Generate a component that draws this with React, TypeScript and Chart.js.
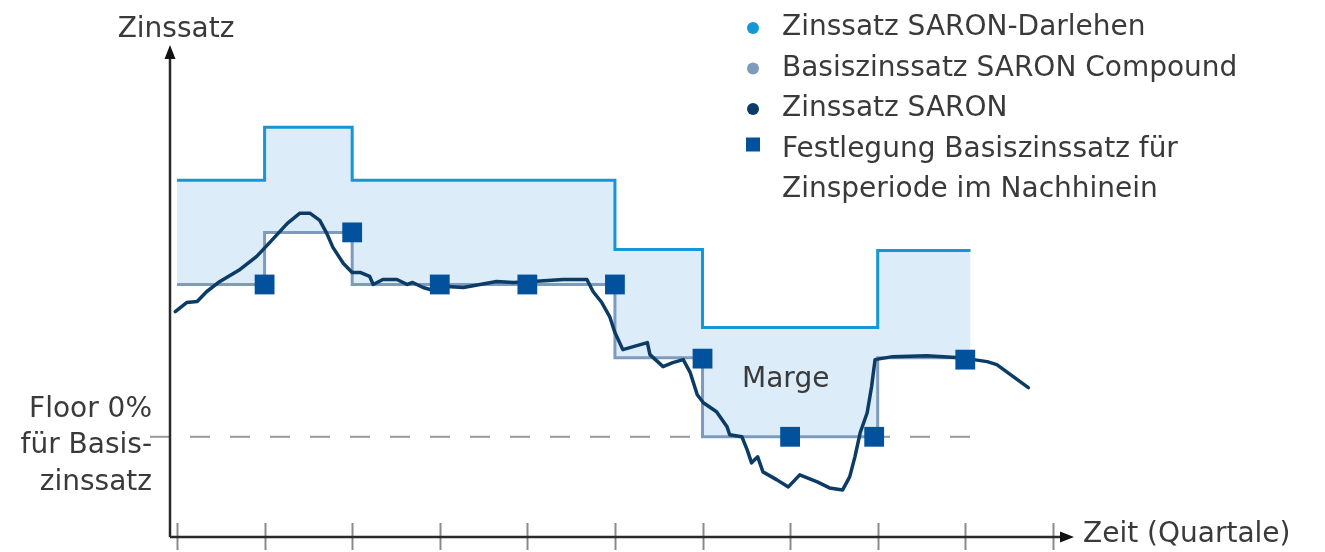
import React, { useEffect, useRef } from "react";
import { Chart, registerables } from "chart.js";

Chart.register(...registerables);

// ---------- data ----------
const periodStarts = [0, 1, 2, 3, 4, 5, 6, 7, 8];
const periodEnd = 9.06;
const quarterTicks = [0, 1, 2, 3, 4, 5, 6, 7, 8, 9, 10];

const darlehenRates = [2.56, 3.09, 2.56, 2.56, 2.56, 1.87, 1.09, 1.09, 1.86];
const compoundRates = [1.52, 2.04, 1.52, 1.52, 1.52, 0.79, 0, 0, 0.79];

const fixingX = [1, 2, 3, 4, 5, 6, 7, 7.96, 9];
const fixingY = [1.52, 2.04, 1.52, 1.52, 1.52, 0.78, 0, 0, 0.77];

const saronX = [
  -0.02, 0.11, 0.23, 0.34, 0.49, 0.72, 0.91, 1.06, 1.26, 1.4, 1.52, 1.63, 1.71, 1.78, 1.9,
  2.0, 2.09, 2.2, 2.24, 2.35, 2.51, 2.63, 2.69, 2.81, 2.89, 3.08, 3.27, 3.46, 3.65, 3.84,
  4.06, 4.41, 4.68, 4.75, 4.85, 4.94, 5.0, 5.09, 5.17, 5.37, 5.4, 5.55, 5.66, 5.78, 5.86,
  5.94, 6.01, 6.16, 6.28, 6.31, 6.45, 6.51, 6.56, 6.63, 6.69, 6.85, 6.98, 7.11, 7.31, 7.45,
  7.6, 7.68, 7.74, 7.8, 7.88, 7.93, 7.97, 8.17, 8.56, 8.94, 9.25, 9.36, 9.72,
];
const saronY = [
  1.25, 1.34, 1.35, 1.45, 1.55, 1.67, 1.8, 1.94, 2.13, 2.23, 2.23, 2.16, 2.03, 1.89, 1.73,
  1.64, 1.64, 1.6, 1.52, 1.57, 1.57, 1.52, 1.54, 1.49, 1.47, 1.5, 1.49, 1.52, 1.55, 1.54,
  1.55, 1.57, 1.57, 1.45, 1.34, 1.2, 1.04, 0.87, 0.89, 0.94, 0.82, 0.7, 0.74, 0.77, 0.64,
  0.42, 0.34, 0.25, 0.1, 0.02, 0.0, -0.13, -0.26, -0.2, -0.35, -0.43, -0.5, -0.38, -0.45, -0.51,
  -0.53, -0.4, -0.2, 0.04, 0.24, 0.5, 0.77, 0.8, 0.81, 0.79, 0.75, 0.72, 0.49,
];

const floorRate = 0;
const floorLineEnd = 9.07;

const xMin = -0.08;
const xMax = 10.23;
const yMin = -1.0;
const yMax = 3.9;

const yAxisTitle = "Zinssatz";
const xAxisTitle = "Zeit (Quartale)";
const floorLabel = ["Floor 0%", "für Basis-", "zinssatz"];
const margeLabel = "Marge";
const margeAt = { x: 6.95, y: 0.5 };

const legendItems = [
  { marker: "circle", color: "#1597d5", lines: ["Zinssatz SARON-Darlehen"] },
  { marker: "circle", color: "#7e9bbf", lines: ["Basiszinssatz SARON Compound"] },
  { marker: "circle", color: "#0c3b66", lines: ["Zinssatz SARON"] },
  { marker: "square", color: "#02519c", lines: ["Festlegung Basiszinssatz für", "Zinsperiode im Nachhinein"] },
];

// ---------- styles ----------
const FONT = '28px "DejaVu Sans"';
const TEXT_COLOR = "#3a3a3a";
const COL_DARLEHEN = "#1597d5";
const COL_COMPOUND = "#7e9bbf";
const COL_SARON = "#0c3b66";
const COL_FIX = "#02519c";
const COL_FILL = "#dcecf9";

function stepPoints(rates: number[]) {
  const pts = periodStarts.map((x, i) => ({ x, y: rates[i] }));
  pts.push({ x: periodEnd, y: rates[rates.length - 1] });
  return pts;
}

const decorPlugin = {
  id: "decor",
  beforeDatasetsDraw(chart: any) {
    const { ctx, scales } = chart;
    const xs = scales.x;
    const ys = scales.y;
    const x0 = xs.getPixelForValue(xMin);
    const xEnd = xs.getPixelForValue(xMax);
    const yBottom = ys.getPixelForValue(yMin);
    const yTop = ys.getPixelForValue(yMax);
    ctx.save();
    // floor dashed line
    const yf = ys.getPixelForValue(floorRate);
    ctx.strokeStyle = "#9a9a9a";
    ctx.lineWidth = 2;
    ctx.setLineDash([20, 20]);
    ctx.beginPath();
    ctx.moveTo(x0 - 20, yf);
    ctx.lineTo(xs.getPixelForValue(floorLineEnd), yf);
    ctx.stroke();
    ctx.setLineDash([]);

    // ticks
    ctx.strokeStyle = "#8a8a8a";
    ctx.lineWidth = 2;
    quarterTicks.forEach((t) => {
      const px = Math.round(xs.getPixelForValue(t)) + 0.5;
      ctx.beginPath();
      ctx.moveTo(px, yBottom - 14);
      ctx.lineTo(px, yBottom + 13);
      ctx.stroke();
    });

    // axes
    ctx.strokeStyle = "#2a2a2a";
    ctx.fillStyle = "#111";
    ctx.lineWidth = 2.5;
    ctx.beginPath();
    ctx.moveTo(x0, yBottom);
    ctx.lineTo(x0, yTop + 10);
    ctx.moveTo(x0, yBottom);
    ctx.lineTo(xEnd - 10, yBottom);
    ctx.stroke();
    // arrows
    ctx.beginPath();
    ctx.moveTo(x0, yTop - 1);
    ctx.lineTo(x0 - 5.5, yTop + 13);
    ctx.lineTo(x0 + 5.5, yTop + 13);
    ctx.closePath();
    ctx.fill();
    ctx.beginPath();
    ctx.moveTo(xEnd + 1, yBottom);
    ctx.lineTo(xEnd - 13, yBottom - 5.5);
    ctx.lineTo(xEnd - 13, yBottom + 5.5);
    ctx.closePath();
    ctx.fill();
    ctx.restore();
  },
  afterDraw(chart: any) {
    const { ctx, scales } = chart;
    const xs = scales.x;
    const ys = scales.y;
    const x0 = xs.getPixelForValue(xMin);
    const xEnd = xs.getPixelForValue(xMax);
    const yBottom = ys.getPixelForValue(yMin);
    const yTop = ys.getPixelForValue(yMax);
    const yf = ys.getPixelForValue(floorRate);
    ctx.save();
    ctx.font = FONT;
    ctx.fillStyle = TEXT_COLOR;
    ctx.textBaseline = "alphabetic";

    // axis titles
    ctx.textAlign = "center";
    ctx.fillText(yAxisTitle, x0 + 6, yTop - 9);
    ctx.textAlign = "left";
    ctx.fillText(xAxisTitle, xEnd + 10, yBottom + 5);

    // floor label
    ctx.textAlign = "right";
    ctx.fillText(floorLabel[0], x0 - 18, yf - 20);
    ctx.fillText(floorLabel[1], x0 - 18, yf + 16);
    ctx.fillText(floorLabel[2], x0 - 18, yf + 53);

    // marge
    ctx.textAlign = "center";
    ctx.fillText(margeLabel, xs.getPixelForValue(margeAt.x), ys.getPixelForValue(margeAt.y));

    // legend
    ctx.textAlign = "left";
    let base = 35;
    const mx = 753;
    const tx = 782;
    legendItems.forEach((item) => {
      ctx.fillStyle = item.color;
      if (item.marker === "circle") {
        ctx.beginPath();
        ctx.arc(mx, base - 7, 6, 0, Math.PI * 2);
        ctx.fill();
      } else {
        ctx.fillRect(mx - 7, base - 19, 14, 14);
      }
      ctx.fillStyle = TEXT_COLOR;
      item.lines.forEach((line) => {
        ctx.fillText(line, tx, base);
        base += 40.5;
      });
    });
    ctx.restore();
  },
};

export default function App() {
  const canvasRef = useRef<HTMLCanvasElement | null>(null);

  useEffect(() => {
    if (!canvasRef.current) return;
    const chart = new Chart(canvasRef.current, {
      type: "line",
      data: {
        datasets: [
          {
            label: "Zinssatz SARON-Darlehen",
            data: stepPoints(darlehenRates),
            stepped: "before",
            borderColor: COL_DARLEHEN,
            borderWidth: 3,
            backgroundColor: COL_FILL,
            fill: 1,
            pointRadius: 0,
            order: 3,
          },
          {
            label: "Basiszinssatz SARON Compound",
            data: stepPoints(compoundRates),
            stepped: "before",
            borderColor: COL_COMPOUND,
            borderWidth: 3,
            fill: false,
            pointRadius: 0,
            order: 2,
          },
          {
            label: "Zinssatz SARON",
            data: saronX.map((x, i) => ({ x, y: saronY[i] })),
            borderColor: COL_SARON,
            borderWidth: 3.5,
            borderJoinStyle: "round",
            borderCapStyle: "round",
            tension: 0,
            fill: false,
            pointRadius: 0,
            order: 1,
          },
          {
            label: "Festlegung Basiszinssatz für Zinsperiode im Nachhinein",
            data: fixingX.map((x, i) => ({ x, y: fixingY[i] })),
            showLine: false,
            pointStyle: "rect",
            pointRadius: 14,
            pointBackgroundColor: COL_FIX,
            pointBorderWidth: 0,
            backgroundColor: COL_FIX,
            borderColor: COL_FIX,
            order: 0,
          },
        ],
      },
      options: {
        responsive: false,
        animation: false,
        devicePixelRatio: 1,
        layout: { padding: { left: 170, right: 252, top: 46, bottom: 15 } },
        plugins: {
          legend: { display: false },
          tooltip: { enabled: false },
        },
        scales: {
          x: { type: "linear", min: xMin, max: xMax, display: false },
          y: { type: "linear", min: yMin, max: yMax, display: false },
        },
      },
      plugins: [decorPlugin],
    });
    return () => chart.destroy();
  }, []);

  return (
    <div style={{ position: "absolute", left: 0, top: 0, width: 1325, height: 552, background: "#fff" }}>
      <canvas ref={canvasRef} width={1325} height={552} style={{ display: "block" }} />
    </div>
  );
}
